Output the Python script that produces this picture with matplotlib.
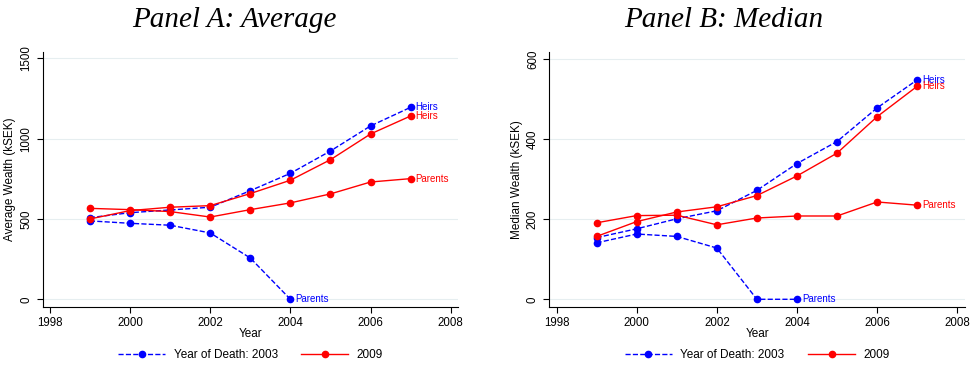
import numpy as np
import matplotlib.pyplot as plt

plt.rcParams['font.family'] = ['Liberation Sans', 'DejaVu Sans']

years = [1999, 2000, 2001, 2002, 2003, 2004, 2005, 2006, 2007]

# Panel A: average wealth (kSEK)
avg_heirs_03 = [508, 539, 556, 573, 676, 784, 923, 1079, 1195]
avg_par_03 = [488, 473, 461, 413, 257, 0]
avg_heirs_09 = [500, 552, 573, 583, 658, 741, 869, 1029, 1141]
avg_par_09 = [566, 558, 546, 512, 558, 600, 656, 730, 751]

# Panel B: median wealth (kSEK)
med_heirs_03 = [154, 176, 201, 221, 272, 339, 394, 478, 548]
med_par_03 = [141, 163, 157, 128, 0, 0]
med_heirs_09 = [157, 194, 218, 231, 259, 308, 365, 456, 532]
med_par_09 = [191, 209, 210, 186, 203, 208, 208, 243, 235]

blue = '#0000ff'
red = '#ff0000'

fig = plt.figure(figsize=(9.72, 3.70), dpi=100)
axA = fig.add_axes([43/972, 1-306.7/370, 415/972, (306.7-52)/370])
axB = fig.add_axes([549.3/972, 1-306.7/370, 416/972, (306.7-52)/370])


def panel(ax, heirs03, par03, heirs09, par09, ylim, yticks, ylabel, title, tx, xl):
    n = len(par03)
    l1, = ax.plot(years, heirs03, '--', color=blue, marker='o', ms=4.5, lw=1)
    ax.plot(years[:n], par03, '--', color=blue, marker='o', ms=4.5, lw=1)
    l2, = ax.plot(years, heirs09, '-', color=red, marker='o', ms=4.5, lw=1)
    ax.plot(years, par09, '-', color=red, marker='o', ms=4.5, lw=1)
    ax.text(years[-1] + 0.12, heirs03[-1], 'Heirs', color=blue, fontsize=7, va='center')
    ax.text(years[-1] + 0.12, heirs09[-1], 'Heirs', color=red, fontsize=7, va='center')
    ax.text(years[-1] + 0.12, par09[-1], 'Parents', color=red, fontsize=7, va='center')
    ax.text(years[n-1] + 0.12, par03[-1], 'Parents', color=blue, fontsize=7, va='center')
    ax.set_xlim(xl)
    ax.set_ylim(ylim)
    ax.set_xticks([1998, 2000, 2002, 2004, 2006, 2008])
    ax.set_yticks(yticks)
    ax.tick_params(labelsize=8.3, direction='out', length=4, width=0.8)
    for t in ax.get_yticklabels():
        t.set_rotation(90)
        t.set_va('center')
    ax.grid(axis='y', color='#e6eef0', lw=0.8)
    ax.set_axisbelow(True)
    ax.spines['top'].set_visible(False)
    ax.spines['right'].set_visible(False)
    ax.set_xlabel('Year', fontsize=8.5, labelpad=-1)
    ax.set_ylabel(ylabel, fontsize=8.5, labelpad=3)
    fig.text(tx/972, 1-20/370, title, fontsize=21, style='italic', ha='center',
             va='center', family=['Liberation Serif', 'DejaVu Serif'])
    ax.legend([l1, l2], ['Year of Death: 2003', '2009'], loc='center',
              bbox_to_anchor=(0.5, -0.19), ncol=2, frameon=False, fontsize=8.5,
              handlelength=4, handletextpad=0.7, columnspacing=2)


panel(axA, avg_heirs_03, avg_par_03, avg_heirs_09, avg_par_09,
      (-46, 1539), [0, 500, 1000, 1500], 'Average Wealth (kSEK)',
      'Panel A: Average', 234, (1997.83, 2008.18))
panel(axB, med_heirs_03, med_par_03, med_heirs_09, med_par_09,
      (-18.5, 617.5), [0, 200, 400, 600], 'Median Wealth (kSEK)',
      'Panel B: Median', 724, (1997.82, 2008.2))

fig.savefig('out.png', dpi=100)
